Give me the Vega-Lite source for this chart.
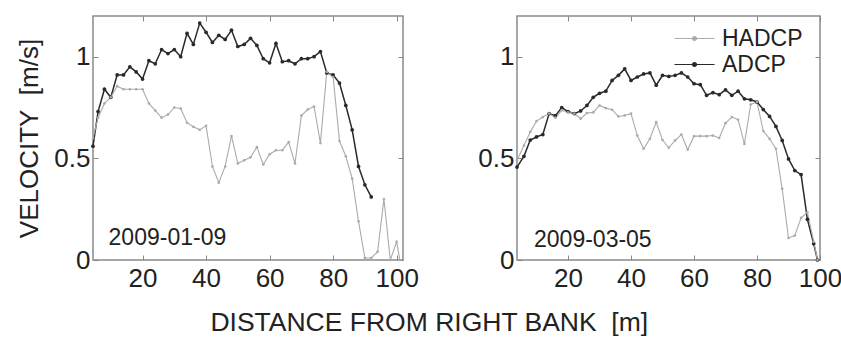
{
  "$schema": "https://vega.github.io/schema/vega-lite/v6.json",
  "background": "white",
  "padding": {"left": 16, "top": 14, "right": 0, "bottom": 0},
  "config": {
    "font": "Liberation Sans",
    "view": {"stroke": "#8a8a8a", "strokeWidth": 1.5},
    "axis": {
      "labelFont": "Liberation Sans", "labelFontSize": 26, "labelColor": "#222",
      "titleFont": "Liberation Sans", "titleFontSize": 26, "titleFontWeight": "normal", "titleColor": "#222",
      "domain": false, "grid": false, "tickColor": "#888", "tickSize": -5, "tickWidth": 1,
      "labelFlush": false, "labelOverlap": false
    }
  },
  "title": {"text": "DISTANCE FROM RIGHT BANK\u00a0 [m]", "orient": "bottom", "anchor": "middle", "fontSize": 26.5, "fontWeight": "normal", "font": "Liberation Sans", "color": "#222", "offset": 18},
  "spacing": 57,
  "resolve": {"legend": {"color": "independent"}},
  "datasets": {
    "left": [
      {"s":"ADCP","x":4.4,"v":0.56},{"s":"ADCP","x":6,"v":0.73},{"s":"ADCP","x":8,"v":0.84},{"s":"ADCP","x":10,"v":0.80},{"s":"ADCP","x":12,"v":0.91},{"s":"ADCP","x":14,"v":0.91},{"s":"ADCP","x":16,"v":0.95},{"s":"ADCP","x":18,"v":0.925},{"s":"ADCP","x":20,"v":0.89},{"s":"ADCP","x":22,"v":0.98},{"s":"ADCP","x":24,"v":0.965},{"s":"ADCP","x":26,"v":1.035},{"s":"ADCP","x":28,"v":1.015},{"s":"ADCP","x":30,"v":1.035},{"s":"ADCP","x":32,"v":1.0},{"s":"ADCP","x":34,"v":1.115},{"s":"ADCP","x":36,"v":1.06},{"s":"ADCP","x":38,"v":1.165},{"s":"ADCP","x":40,"v":1.12},{"s":"ADCP","x":42,"v":1.07},{"s":"ADCP","x":44,"v":1.105},{"s":"ADCP","x":46,"v":1.085},{"s":"ADCP","x":48,"v":1.13},{"s":"ADCP","x":50,"v":1.05},{"s":"ADCP","x":52,"v":1.06},{"s":"ADCP","x":54,"v":1.09},{"s":"ADCP","x":56,"v":1.055},{"s":"ADCP","x":58,"v":0.99},{"s":"ADCP","x":60,"v":0.97},{"s":"ADCP","x":62,"v":1.065},{"s":"ADCP","x":64,"v":0.975},{"s":"ADCP","x":66,"v":0.98},{"s":"ADCP","x":68,"v":0.965},{"s":"ADCP","x":70,"v":0.99},{"s":"ADCP","x":72,"v":0.99},{"s":"ADCP","x":74,"v":1.0},{"s":"ADCP","x":76,"v":1.025},{"s":"ADCP","x":78,"v":0.92},{"s":"ADCP","x":80,"v":0.91},{"s":"ADCP","x":82,"v":0.87},{"s":"ADCP","x":84,"v":0.76},{"s":"ADCP","x":86,"v":0.64},{"s":"ADCP","x":88,"v":0.46},{"s":"ADCP","x":90,"v":0.37},{"s":"ADCP","x":92,"v":0.31},
      {"s":"HADCP","x":4.4,"v":0.60},{"s":"HADCP","x":6,"v":0.70},{"s":"HADCP","x":8,"v":0.77},{"s":"HADCP","x":10,"v":0.80},{"s":"HADCP","x":12,"v":0.855},{"s":"HADCP","x":14,"v":0.84},{"s":"HADCP","x":16,"v":0.84},{"s":"HADCP","x":18,"v":0.84},{"s":"HADCP","x":20,"v":0.84},{"s":"HADCP","x":22,"v":0.77},{"s":"HADCP","x":24,"v":0.735},{"s":"HADCP","x":26,"v":0.70},{"s":"HADCP","x":28,"v":0.715},{"s":"HADCP","x":30,"v":0.75},{"s":"HADCP","x":32,"v":0.745},{"s":"HADCP","x":34,"v":0.675},{"s":"HADCP","x":36,"v":0.655},{"s":"HADCP","x":38,"v":0.64},{"s":"HADCP","x":40,"v":0.66},{"s":"HADCP","x":42,"v":0.46},{"s":"HADCP","x":44,"v":0.38},{"s":"HADCP","x":46,"v":0.46},{"s":"HADCP","x":48,"v":0.61},{"s":"HADCP","x":50,"v":0.475},{"s":"HADCP","x":52,"v":0.49},{"s":"HADCP","x":54,"v":0.505},{"s":"HADCP","x":56,"v":0.555},{"s":"HADCP","x":58,"v":0.47},{"s":"HADCP","x":60,"v":0.52},{"s":"HADCP","x":62,"v":0.54},{"s":"HADCP","x":64,"v":0.54},{"s":"HADCP","x":66,"v":0.58},{"s":"HADCP","x":68,"v":0.475},{"s":"HADCP","x":70,"v":0.71},{"s":"HADCP","x":72,"v":0.74},{"s":"HADCP","x":74,"v":0.755},{"s":"HADCP","x":76,"v":0.575},{"s":"HADCP","x":78,"v":0.925},{"s":"HADCP","x":80,"v":0.90},{"s":"HADCP","x":82,"v":0.585},{"s":"HADCP","x":84,"v":0.51},{"s":"HADCP","x":86,"v":0.40},{"s":"HADCP","x":88,"v":0.19},{"s":"HADCP","x":90,"v":0.01},{"s":"HADCP","x":92,"v":0.01},{"s":"HADCP","x":94,"v":0.04},{"s":"HADCP","x":96,"v":0.30},{"s":"HADCP","x":98,"v":0.0},{"s":"HADCP","x":100,"v":0.09},{"s":"HADCP","x":101,"v":0.0}
    ],
    "right": [
      {"s":"ADCP","x":3.8,"v":0.457},{"s":"ADCP","x":6,"v":0.51},{"s":"ADCP","x":8,"v":0.59},{"s":"ADCP","x":10,"v":0.605},{"s":"ADCP","x":12,"v":0.617},{"s":"ADCP","x":14,"v":0.72},{"s":"ADCP","x":16,"v":0.71},{"s":"ADCP","x":18,"v":0.75},{"s":"ADCP","x":20,"v":0.73},{"s":"ADCP","x":22,"v":0.72},{"s":"ADCP","x":24,"v":0.733},{"s":"ADCP","x":26,"v":0.76},{"s":"ADCP","x":28,"v":0.80},{"s":"ADCP","x":30,"v":0.82},{"s":"ADCP","x":32,"v":0.83},{"s":"ADCP","x":34,"v":0.883},{"s":"ADCP","x":36,"v":0.908},{"s":"ADCP","x":38,"v":0.94},{"s":"ADCP","x":40,"v":0.883},{"s":"ADCP","x":42,"v":0.90},{"s":"ADCP","x":44,"v":0.915},{"s":"ADCP","x":46,"v":0.92},{"s":"ADCP","x":48,"v":0.86},{"s":"ADCP","x":50,"v":0.908},{"s":"ADCP","x":52,"v":0.903},{"s":"ADCP","x":54,"v":0.908},{"s":"ADCP","x":56,"v":0.92},{"s":"ADCP","x":58,"v":0.90},{"s":"ADCP","x":60,"v":0.867},{"s":"ADCP","x":62,"v":0.862},{"s":"ADCP","x":64,"v":0.81},{"s":"ADCP","x":66,"v":0.823},{"s":"ADCP","x":68,"v":0.813},{"s":"ADCP","x":70,"v":0.837},{"s":"ADCP","x":72,"v":0.81},{"s":"ADCP","x":74,"v":0.83},{"s":"ADCP","x":76,"v":0.793},{"s":"ADCP","x":78,"v":0.788},{"s":"ADCP","x":80,"v":0.777},{"s":"ADCP","x":82,"v":0.74},{"s":"ADCP","x":84,"v":0.706},{"s":"ADCP","x":86,"v":0.657},{"s":"ADCP","x":88,"v":0.588},{"s":"ADCP","x":90,"v":0.497},{"s":"ADCP","x":92,"v":0.44},{"s":"ADCP","x":94,"v":0.42},{"s":"ADCP","x":96,"v":0.20},{"s":"ADCP","x":98,"v":0.08},{"s":"ADCP","x":99.2,"v":0.0},
      {"s":"HADCP","x":3.8,"v":0.49},{"s":"HADCP","x":6,"v":0.563},{"s":"HADCP","x":8,"v":0.63},{"s":"HADCP","x":10,"v":0.683},{"s":"HADCP","x":12,"v":0.703},{"s":"HADCP","x":14,"v":0.72},{"s":"HADCP","x":16,"v":0.70},{"s":"HADCP","x":18,"v":0.736},{"s":"HADCP","x":20,"v":0.726},{"s":"HADCP","x":22,"v":0.72},{"s":"HADCP","x":24,"v":0.695},{"s":"HADCP","x":26,"v":0.723},{"s":"HADCP","x":28,"v":0.726},{"s":"HADCP","x":30,"v":0.76},{"s":"HADCP","x":32,"v":0.747},{"s":"HADCP","x":34,"v":0.739},{"s":"HADCP","x":36,"v":0.706},{"s":"HADCP","x":38,"v":0.711},{"s":"HADCP","x":40,"v":0.72},{"s":"HADCP","x":42,"v":0.612},{"s":"HADCP","x":44,"v":0.547},{"s":"HADCP","x":46,"v":0.596},{"s":"HADCP","x":48,"v":0.678},{"s":"HADCP","x":50,"v":0.59},{"s":"HADCP","x":52,"v":0.552},{"s":"HADCP","x":54,"v":0.588},{"s":"HADCP","x":56,"v":0.617},{"s":"HADCP","x":58,"v":0.542},{"s":"HADCP","x":60,"v":0.609},{"s":"HADCP","x":62,"v":0.609},{"s":"HADCP","x":64,"v":0.609},{"s":"HADCP","x":66,"v":0.612},{"s":"HADCP","x":68,"v":0.60},{"s":"HADCP","x":70,"v":0.673},{"s":"HADCP","x":72,"v":0.703},{"s":"HADCP","x":74,"v":0.69},{"s":"HADCP","x":76,"v":0.571},{"s":"HADCP","x":78,"v":0.765},{"s":"HADCP","x":80,"v":0.777},{"s":"HADCP","x":82,"v":0.634},{"s":"HADCP","x":84,"v":0.596},{"s":"HADCP","x":86,"v":0.547},{"s":"HADCP","x":88,"v":0.35},{"s":"HADCP","x":90,"v":0.108},{"s":"HADCP","x":92,"v":0.12},{"s":"HADCP","x":94,"v":0.207},{"s":"HADCP","x":96,"v":0.235},{"s":"HADCP","x":98,"v":0.09},{"s":"HADCP","x":99.2,"v":0.0}
    ]
  },
  "hconcat": [
    {
      "width": 310, "height": 244,
      "data": {"name": "left"},
      "layer": [
        {
          "mark": {"type": "line"},
          "encoding": {
            "x": {"field": "x", "type": "quantitative", "scale": {"domain": [4.4, 102], "nice": false, "zero": false}, "axis": {"title": null, "values": [20, 40, 60, 80, 100], "labelPadding": 10}},
            "y": {"field": "v", "type": "quantitative", "scale": {"domain": [0, 1.2], "nice": false}, "axis": {"title": "VELOCITY\u00a0 [m/s]", "values": [0, 0.5, 1], "format": "~g", "labelPadding": 8, "titlePadding": 11}},
            "color": {"field": "s", "type": "nominal", "scale": {"domain": ["HADCP", "ADCP"], "range": ["#ababab", "#2a2a2a"]}, "legend": null},
            "strokeWidth": {"field": "s", "type": "nominal", "scale": {"domain": ["HADCP", "ADCP"], "range": [1.1, 1.5]}, "legend": null}
          }
        },
        {
          "mark": {"type": "point", "filled": true, "opacity": 1},
          "encoding": {
            "x": {"field": "x", "type": "quantitative", "axis": {"orient": "top", "labels": false, "title": null, "values": [20, 40, 60, 80, 100]}},
            "y": {"field": "v", "type": "quantitative", "axis": {"orient": "right", "labels": false, "title": null, "values": [0, 0.5, 1]}},
            "color": {"field": "s", "type": "nominal", "legend": null},
            "size": {"field": "s", "type": "nominal", "scale": {"domain": ["HADCP", "ADCP"], "range": [7, 14]}, "legend": null}
          }
        },
        {
          "data": {"values": [{"x": 9.3, "v": 0.074, "label": "2009-01-09"}]},
          "mark": {"type": "text", "align": "left", "baseline": "alphabetic", "fontSize": 23, "font": "Liberation Sans", "color": "#222"},
          "encoding": {
            "x": {"field": "x", "type": "quantitative", "axis": null},
            "y": {"field": "v", "type": "quantitative", "axis": null},
            "text": {"field": "label"}
          }
        }
      ],
      "resolve": {"axis": {"x": "independent", "y": "independent"}}
    },
    {
      "width": 303, "height": 244,
      "data": {"name": "right"},
      "layer": [
        {
          "mark": {"type": "line"},
          "encoding": {
            "x": {"field": "x", "type": "quantitative", "scale": {"domain": [3.8, 100], "nice": false, "zero": false}, "axis": {"title": null, "values": [20, 40, 60, 80, 100], "labelPadding": 10}},
            "y": {"field": "v", "type": "quantitative", "scale": {"domain": [0, 1.2], "nice": false}, "axis": {"title": null, "values": [0, 0.5, 1], "format": "~g", "labelPadding": 8}},
            "color": {"field": "s", "type": "nominal", "scale": {"domain": ["HADCP", "ADCP"], "range": ["#ababab", "#2a2a2a"]},
              "legend": {"orient": "none", "legendX": 166, "legendY": 11, "title": null, "labelFont": "Liberation Sans", "labelFontSize": 23, "labelColor": "#222",
                "symbolType": "M-2,0L2,0M0.2,0A0.2,0.2,0,1,1,-0.2,0A0.2,0.2,0,1,1,0.2,0", "symbolSize": 400, "symbolStrokeWidth": 1.2, "labelOffset": 16, "rowPadding": 2, "padding": 0}},
            "strokeWidth": {"field": "s", "type": "nominal", "scale": {"domain": ["HADCP", "ADCP"], "range": [1.1, 1.5]}, "legend": null}
          }
        },
        {
          "mark": {"type": "point", "filled": true, "opacity": 1},
          "encoding": {
            "x": {"field": "x", "type": "quantitative", "axis": {"orient": "top", "labels": false, "title": null, "values": [20, 40, 60, 80, 100]}},
            "y": {"field": "v", "type": "quantitative", "axis": {"orient": "right", "labels": false, "title": null, "values": [0, 0.5, 1]}},
            "color": {"field": "s", "type": "nominal", "legend": null},
            "size": {"field": "s", "type": "nominal", "scale": {"domain": ["HADCP", "ADCP"], "range": [7, 14]}, "legend": null}
          }
        },
        {
          "data": {"values": [{"x": 9.2, "v": 0.064, "label": "2009-03-05"}]},
          "mark": {"type": "text", "align": "left", "baseline": "alphabetic", "fontSize": 23, "font": "Liberation Sans", "color": "#222"},
          "encoding": {
            "x": {"field": "x", "type": "quantitative", "axis": null},
            "y": {"field": "v", "type": "quantitative", "axis": null},
            "text": {"field": "label"}
          }
        }
      ],
      "resolve": {"axis": {"x": "independent", "y": "independent"}}
    }
  ]
}
